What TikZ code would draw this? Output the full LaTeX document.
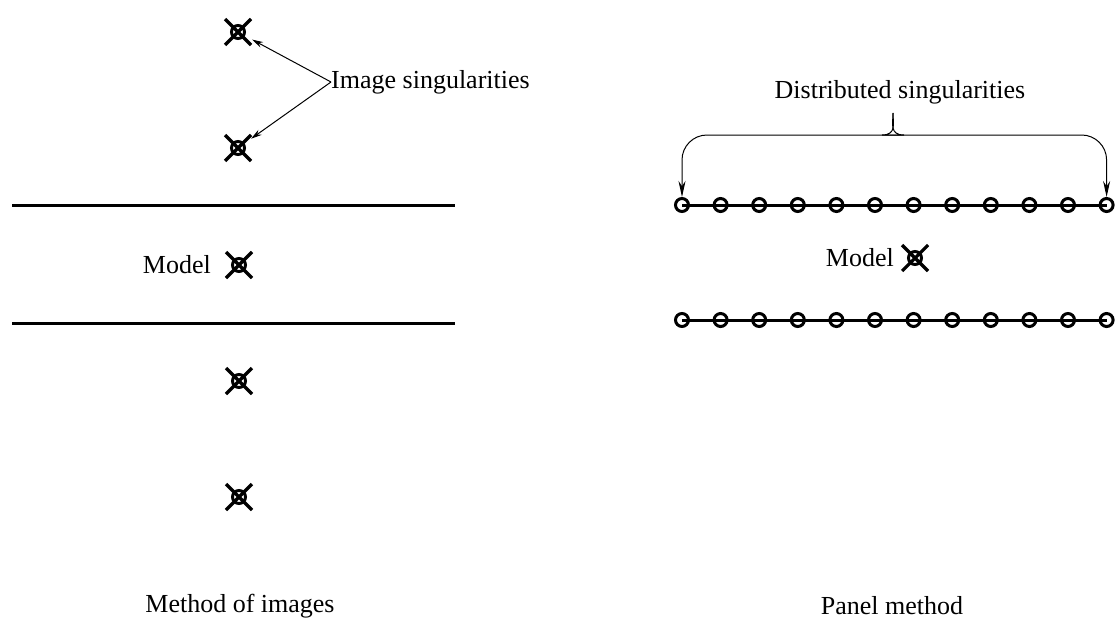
\documentclass[tikz,border=0pt]{standalone}
\usepackage{fontspec}
\setmainfont{Liberation Serif}
\usetikzlibrary{positioning,arrows.meta}

\tikzset{
  singularity/.style={circle,draw,line width=3pt,minimum size=13pt,inner sep=0pt},
  source/.style={circle,draw,line width=3pt,minimum size=13pt,inner sep=0pt},
  xarm/.style={line width=3.2pt},
  txt/.style={inner sep=0pt,font=\fontsize{26}{30}\selectfont},
  wall/.style={line width=3pt},
  panel/.style={line width=3pt},
  pointer/.style={line width=1pt,-{Stealth[length=11pt,width=6pt]}},
  bracearrow/.style={line width=1pt,-{Stealth[length=16pt,width=7pt]}}
}

\begin{document}
\begin{tikzpicture}[x=1pt,y=-1pt]
\useasboundingbox (0,0) rectangle (1119,621);

%Walls
\draw[wall] (12,205) -- (455,205);
\draw[wall] (12,323) -- (455,323);

%Model and image singularities
\node[singularity] (imgA) at (238,32) {};
\node[singularity] (imgB) at (238,148) {};
\node[singularity] (model) at (239,265) {};
\node[singularity] (imgC) at (239,381) {};
\node[singularity] (imgD) at (239,497) {};
\node[singularity] (pmodel) at (915,258) {};
\foreach \n in {imgA,imgB,model,imgC,imgD,pmodel}
  \draw[xarm] ([shift={(-13,-13)}]\n.center) -- ([shift={(13,13)}]\n.center)
              ([shift={(-13,13)}]\n.center) -- ([shift={(13,-13)}]\n.center);

%Panels
\foreach \i in {1,...,12} {
  \node[source] (up\i) at ({682+38.6*(\i-1)},205) {};
  \node[source] (lo\i) at ({682+38.6*(\i-1)},320) {};
}
\draw[panel] (up1.center) -- (up12.center);
\draw[panel] (lo1.center) -- (lo12.center);

% Text Node
\node[txt,anchor=west] (imglbl) at (331,82) {Image singularities};
\node[txt,left=20pt of model] (modellbl) {Model};
\node[txt,left=13pt of pmodel] (pmodellbl) {Model};
\node[txt] (distlbl) at (900,92) {Distributed singularities};
\node[txt] (moi) at (240,606) {Method of images};
\node[txt] (pm) at (892,606) {Panel method};

%Pointers
\draw[pointer,shorten >=8pt] (imglbl.west) -- (imgA);
\draw[pointer,shorten >=8pt] (imglbl.west) -- (imgB);

\coordinate (tip) at (893,113);
\draw[bracearrow,rounded corners=25pt] (tip) to[out=-90,in=0] (879,135)
  -- (up1.north |- 879,135) -- (up1.north);
\draw[bracearrow,rounded corners=25pt] (tip) to[out=-90,in=180] (907,135)
  -- (up12.north |- 907,135) -- (up12.north);
\end{tikzpicture}
\end{document}
